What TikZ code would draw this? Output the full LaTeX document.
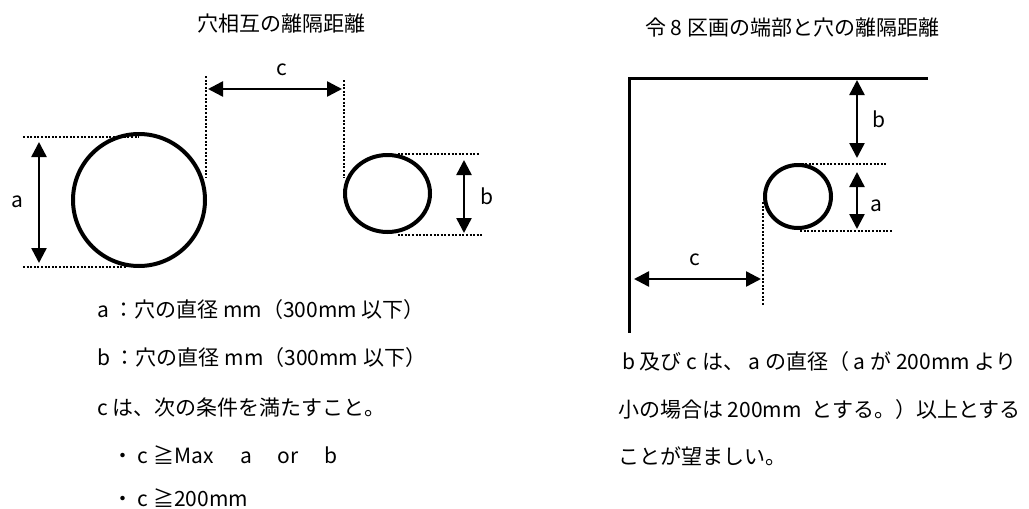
\documentclass[tikz,border=0pt]{standalone}
\usepackage{fontspec}
\setmainfont{Noto Sans CJK JP}
\usetikzlibrary{arrows.meta,shapes.geometric}

\begin{document}
\begin{tikzpicture}[x=1pt,y=-1pt,
    hole/.style={draw,line width=4pt,inner sep=0pt,outer sep=0pt},
    guide/.style={line width=2pt,dash pattern=on 2pt off 1.6pt},
    dimline/.style={line width=2.5pt,
        {Triangle[length=15pt,width=15pt]}-{Triangle[length=15pt,width=15pt]}},
    edge/.style={line width=3pt},
    txt/.style={font=\fontsize{21pt}{25pt}\selectfont,inner sep=0pt}]
    \useasboundingbox (0,0) rectangle (1029,509);

    % titles
    \node[txt] (titleL) at (281,24) {穴相互の離隔距離};
    \node[txt,anchor=west] (titleR) at (645,28) {令 8 区画の端部と穴の離隔距離};

    % left: two holes
    \node[hole,circle,minimum size=132pt] (holeA) at (139,200) {};
    \node[hole,ellipse,minimum width=85pt,minimum height=77pt] (holeB) at (387.5,193.5) {};

    \coordinate (aT) at (23,137);
    \coordinate (aB) at (23,267);
    \draw[guide] (aT) -- (aT -| holeA.north);
    \draw[guide] (aB) -- ([xshift=-12pt]aB -| holeA.south);
    \draw[dimline] (39,142) coordinate (a1) -- (39,263) coordinate (a2);
    \node[txt] (la) at (17,202) {a};

    \coordinate (cL) at (206,76);
    \coordinate (cR) at (344,80);
    \draw[guide] (cL) -- (206,178);
    \draw[guide] (cR) -- (344,178);
    \draw[dimline] (208,89) coordinate (c1) -- (342,89) coordinate (c2);
    \node[txt] (lc) at (282,70) {c};

    \coordinate (bT) at (480,154);
    \coordinate (bB) at (482,235);
    \draw[guide] ([xshift=10pt]bT -| holeB.north) -- (bT);
    \draw[guide] ([xshift=10pt]bB -| holeB.south) -- (bB);
    \draw[dimline] (464,160) coordinate (b1) -- (464,233) coordinate (b2);
    \node[txt] (lb) at (487,196) {b};

    % left notes
    \node[txt,anchor=west] (noteA) at (97,310) {a ：穴の直径 mm（300mm 以下）};
    \node[txt,anchor=west] (noteB) at (97,358) {b ：穴の直径 mm（300mm 以下）};
    \node[txt,anchor=west] (noteC) at (97,407) {c は、次の条件を満たすこと。};
    \node[txt,anchor=west] (cond1) at (112,455)
        {・ c ≧Max\hspace{27pt}a\hspace{25pt}or\hspace{26pt}b};
    \node[txt,anchor=west] (cond2) at (112,498) {・ c ≧200mm};

    % right: hole near the corner of a section
    \coordinate (corner) at (629,78);
    \draw[edge] (928,78) -- (corner) -- (629,333);
    \node[hole,ellipse,minimum width=66pt,minimum height=63pt] (holeC) at (798,196.5) {};

    \draw[dimline] (857,80) coordinate (rb1) -- (857,158) coordinate (rb2);
    \node[txt] (rlb) at (879,119) {b};

    \coordinate (raT) at (886,164);
    \coordinate (raB) at (892,231);
    \draw[guide] (raT -| holeC.north) -- (raT);
    \draw[guide] ([xshift=2pt]raB -| holeC.south) -- (raB);
    \draw[dimline] (857,172) coordinate (ra1) -- (857,229) coordinate (ra2);
    \node[txt] (rla) at (876,206) {a};

    \coordinate (rcB) at (763,305);
    \draw[guide] (763,202) -- (rcB);
    \draw[dimline] (634,279) coordinate (rc1) -- (761,279) coordinate (rc2);
    \node[txt] (rlc) at (695,260) {c};

    % right notes
    \node[txt,anchor=west] (noteR1) at (622,362) {b 及び c は、 a の直径（ a が 200mm より};
    \node[txt,anchor=west] (noteR2) at (618,410) {小の場合は 200mm\hspace{10pt}とする。）以上とする};
    \node[txt,anchor=west] (noteR3) at (618,456) {ことが望ましい。};
\end{tikzpicture}
\end{document}
